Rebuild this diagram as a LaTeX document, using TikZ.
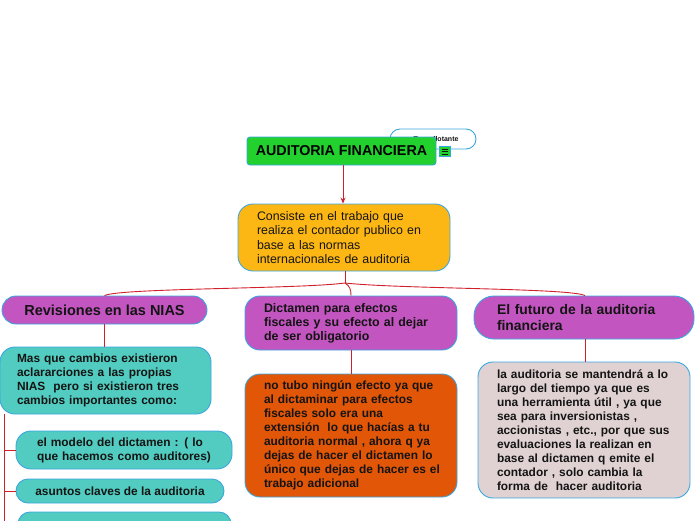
\documentclass[tikz,border=0pt]{standalone}
\usepackage{fontspec}
\setmainfont{Liberation Sans}
\usetikzlibrary{arrows.meta}
\definecolor{bordc}{RGB}{58,166,224}
\definecolor{greenc}{RGB}{34,209,46}
\definecolor{yellc}{RGB}{253,183,20}
\definecolor{purpc}{RGB}{195,85,192}
\definecolor{tealc}{RGB}{82,204,192}
\definecolor{redorc}{RGB}{226,86,8}
\definecolor{pinkc}{RGB}{224,210,210}
\definecolor{linec}{RGB}{208,32,42}
\definecolor{txtc}{RGB}{20,20,20}
\newcommand{\Mb}[1]{\mbox{#1}}
\tikzset{
  box/.style={draw=bordc, line width=0.9pt, inner ysep=0pt, text=txtc},
  conn/.style={draw=linec, line width=0.9pt},
  arr/.style={conn, -{Stealth[length=6pt,width=5pt]}},
  boldtext/.style={font=\bfseries\fontsize{11.9}{14}\selectfont},
}
\begin{document}
\begin{tikzpicture}[x=1pt,y=-1pt]
\useasboundingbox (0,0) rectangle (696,520);
% floating topic (behind main)
\node[box, fill=white, rounded corners=10pt, minimum width=86pt, minimum height=20pt, inner xsep=0pt,
      font=\bfseries\fontsize{7}{8}\selectfont] (float) at (433,139) {\hspace*{6pt}Tema flotante};
% main
\node[box, fill=greenc, rounded corners=3pt, minimum width=189pt, minimum height=28pt, inner xsep=0pt,
      text=black, font=\bfseries\fontsize{14.3}{16}\selectfont] (main) at (341.5,151) {AUDITORIA FINANCIERA};
\node[fill=greenc, draw=bordc, line width=0.4pt, minimum width=11pt, minimum height=10pt, inner sep=0pt] (icon) at (444.5,151.5) {};
\draw[txtc, line width=0.8pt] ([xshift=-3pt,yshift=2.5pt]icon.center) -- ++(6,0)
  ([xshift=-3pt]icon.center) -- ++(6,0)
  ([xshift=-3pt,yshift=-2.5pt]icon.center) -- ++(6,0);
% consiste
\node[box, fill=yellc, rounded corners=15pt, minimum width=212pt, minimum height=67pt, inner xsep=19pt,
      text width=174pt, align=left, font=\fontsize{12.4}{14.5}\selectfont] (cons) at (344,237.5)
  {\Mb{Consiste en el trabajo que}\\\Mb{realiza el contador publico en}\\\Mb{base a las normas}\\\Mb{internacionales de auditoria}};
% level 2
\node[box, fill=purpc, rounded corners=14pt, minimum width=205pt, minimum height=28pt, inner xsep=0pt,
      font=\bfseries\fontsize{14.5}{16}\selectfont] (rev) at (104.5,310) {Revisiones en las NIAS};
\node[box, fill=purpc, rounded corners=15pt, minimum width=212pt, minimum height=54pt, inner xsep=19pt,
      text width=174pt, align=left, font=\bfseries\fontsize{12.4}{14}\selectfont] (dict) at (351,323)
  {\Mb{Dictamen para efectos}\\\Mb{fiscales y su efecto al dejar}\\\Mb{de ser obligatorio}};
\node[box, fill=purpc, rounded corners=20pt, minimum width=220pt, minimum height=43pt, inner xsep=23pt,
      text width=174pt, align=left, font=\bfseries\fontsize{13.9}{16}\selectfont] (fut) at (584,317.5)
  {\Mb{El futuro de la auditoria}\\\Mb{financiera}};
% level 3
\node[box, fill=tealc, rounded corners=15pt, minimum width=211pt, minimum height=67pt, inner xsep=17pt,
      text width=177pt, align=left, boldtext] (t1) at (105.5,380.5)
  {\Mb{Mas que cambios existieron}\\\Mb{aclararciones a las propias}\\\Mb{NIAS\ \ pero si existieron tres}\\\Mb{cambios importantes como:}};
\node[box, fill=tealc, rounded corners=15pt, minimum width=216pt, minimum height=38pt, inner xsep=21pt,
      text width=174pt, align=left, boldtext] (t2) at (124,450)
  {\Mb{el modelo del dictamen : ( lo}\\\Mb{que hacemos como auditores)}};
\node[box, fill=tealc, rounded corners=12pt, minimum width=208pt, minimum height=24pt, inner xsep=0pt,
      boldtext] (t3) at (120,491) {asuntos claves de la auditoria};
\node[box, fill=tealc, rounded corners=12pt, minimum width=213pt, minimum height=30pt, inner xsep=0pt] (t4) at (124.5,527) {};
\node[box, fill=redorc, rounded corners=15pt, minimum width=212pt, minimum height=123pt, inner xsep=19pt,
      text width=174pt, align=left, boldtext] (ored) at (351,435.5)
  {\Mb{no tubo ningún efecto ya que}\\\Mb{al dictaminar para efectos}\\\Mb{fiscales solo era una}\\\Mb{extensión\ \ lo que hacías a tu}\\\Mb{auditoria normal , ahora q ya}\\\Mb{dejas de hacer el dictamen lo}\\\Mb{único que dejas de hacer es el}\\\Mb{trabajo adicional}};
\node[box, fill=pinkc, rounded corners=15pt, minimum width=212pt, minimum height=136pt, inner xsep=19pt,
      text width=174pt, align=left, boldtext] (pink) at (584,430)
  {\Mb{la auditoria se mantendrá a lo}\\\Mb{largo del tiempo ya que es}\\\Mb{una herramienta útil , ya que}\\\Mb{sea para inversionistas ,}\\\Mb{accionistas , etc., por que sus}\\\Mb{evaluaciones la realizan en}\\\Mb{base al dictamen q emite el}\\\Mb{contador , solo cambia la}\\\Mb{forma de\ \ hacer auditoria}};
% connectors
\draw[arr] ([xshift=1.5pt]main.south) -- ([xshift=-1pt]cons.north);
\coordinate (hub) at (345,283);
\draw[conn] ([xshift=1pt]cons.south) -- (hub);
\draw[conn] (hub) .. controls (300,289) and (120,288) .. (rev.north);
\draw[conn] (hub) .. controls (350,286) and (351,290) .. (dict.north);
\draw[conn] (hub) .. controls (400,289) and (570,288) .. ([xshift=1pt]fut.north);
\draw[conn] (rev.south) -- (rev.south |- t1.north);
\draw[conn] (dict.south) -- (ored.north);
\draw[conn] ([xshift=1pt]fut.south) -- ([xshift=1pt]pink.north);
\coordinate (brk) at (4,414);
\draw[conn] (brk) |- (t2.west);
\draw[conn] (brk) |- (t3.west);
\draw[conn] (brk) |- (t4.west);
\end{tikzpicture}
\end{document}
